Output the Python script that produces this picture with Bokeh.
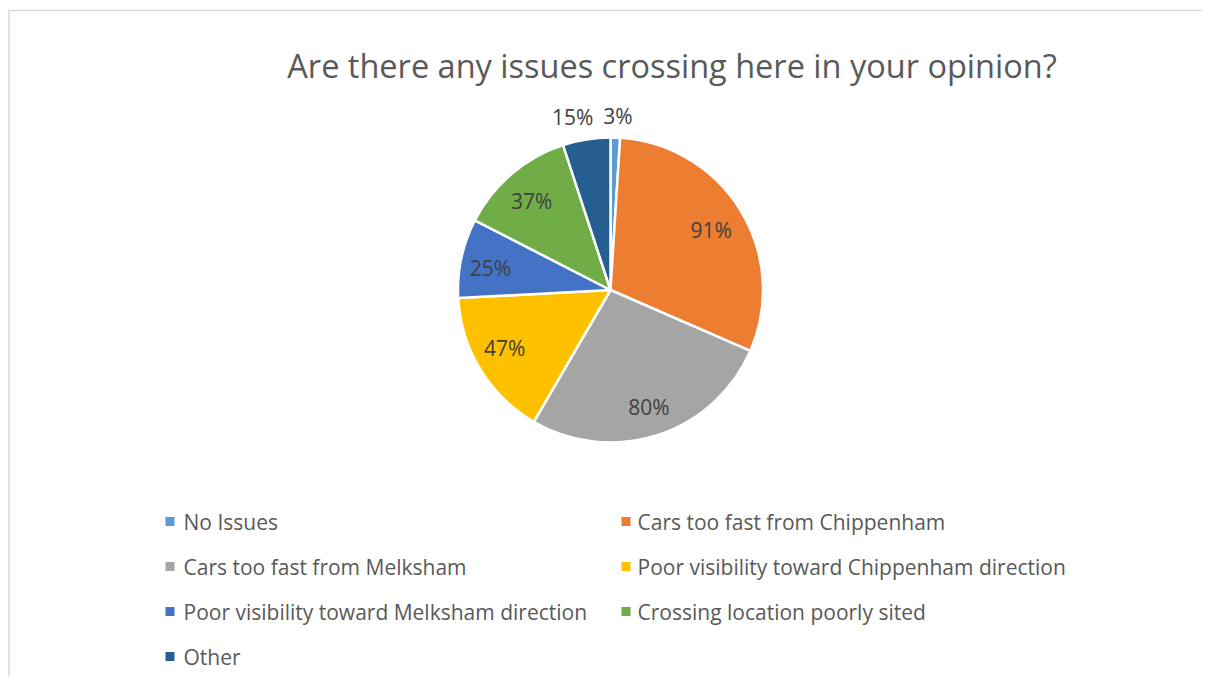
import math
from bokeh.plotting import figure
from bokeh.models import Range1d, ColumnDataSource
from bokeh.core.properties import value
from bokeh.embed import file_html
from bokeh.resources import INLINE

title_text = "Are there any issues crossing here in your opinion?"
categories = ["No Issues", "Cars too fast from Chippenham", "Cars too fast from Melksham",
              "Poor visibility toward Chippenham direction", "Poor visibility toward Melksham direction",
              "Crossing location poorly sited", "Other"]
percent = [3, 91, 80, 47, 25, 37, 15]
colors = ["#5B9BD5", "#ED7D31", "#A5A5A5", "#FFC000", "#4472C4", "#70AD47", "#255E91"]
# label placement (layout): radius factor and angular nudge in degrees
label_radius_factor = [1.14, 0.77, 0.81, 0.79, 0.80, 0.78, 1.16]
label_angle_nudge = [0.6, 0.5, 0.0, 2.9, -1.9, -1.1, -3.3]

W, H = 1202, 676
FONT = "Open Sans"
TXT = "#595959"

p = figure(width=W, height=H, output_backend="svg", toolbar_location=None,
           x_range=Range1d(0, W), y_range=Range1d(0, H),
           x_axis_location=None, y_axis_location=None, min_border=0)
p.outline_line_color = None
p.xgrid.visible = False
p.ygrid.visible = False
p.background_fill_color = "white"
p.border_fill_color = "white"

# chart frame (left and top edges visible)
p.line([8.5, 8.5, W], [0, 666, 666], line_color="#D9D9D9", line_width=1.5)

# pie
cx, cy, R = 610, 386.5, 152.5
total = sum(percent)
cum = [0.0]
for v in percent:
    cum.append(cum[-1] + v / total * 2 * math.pi)
starts = [math.pi / 2 - a for a in cum[:-1]]
ends = [math.pi / 2 - a for a in cum[1:]]
src = ColumnDataSource(dict(start=starts, end=ends, color=colors))
p.wedge(x=cx, y=cy, radius=R, start_angle="start", end_angle="end", direction="clock",
        fill_color="color", line_color="white", line_width=2.5, source=src)

mids = [(a + b) / 2 + math.radians(d) for a, b, d in zip(cum[:-1], cum[1:], label_angle_nudge)]
lx = [cx + f * R * math.sin(m) for f, m in zip(label_radius_factor, mids)]
ly = [cy + f * R * math.cos(m) for f, m in zip(label_radius_factor, mids)]
labels = [f"{v}%" for v in percent]
p.text(x=lx, y=ly, text=labels, text_align="center", text_baseline="middle",
       text_font=value(FONT), text_font_size="21px", text_color="#404040")

# title
p.text(x=[671.5], y=[611], text=[title_text], text_align="center", text_baseline="middle",
       text_font=value(FONT), text_font_size="32.5px", text_color=TXT)

# legend
col_marker_x = [169.5, 625.5]
col_text_x = [183, 637]
row_y = [155, 110, 65, 20]
mx, my, tx, ty = [], [], [], []
for i, c in enumerate(categories):
    r, k = divmod(i, 2)
    mx.append(col_marker_x[k]); my.append(row_y[r])
    tx.append(col_text_x[k]); ty.append(row_y[r])
p.scatter(x=mx, y=my, marker="square", size=9, fill_color=colors, line_color=None)
p.text(x=tx, y=ty, text=categories, text_align="left", text_baseline="middle",
       text_font=value(FONT), text_font_size="21px", text_color=TXT)

open("out.html", "w").write(file_html(p, INLINE))
